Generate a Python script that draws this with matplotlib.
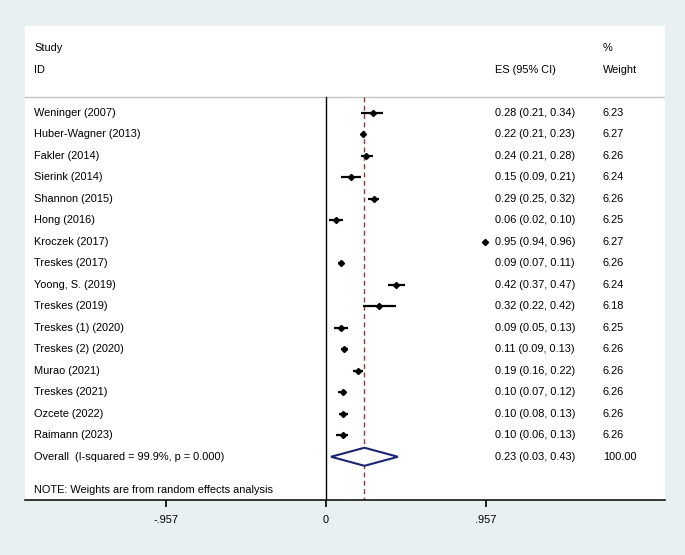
import matplotlib
matplotlib.use("Agg")
import matplotlib.pyplot as plt
from matplotlib.patches import Polygon
from matplotlib.transforms import blended_transform_factory

plt.rcParams['font.family'] = ['Liberation Sans', 'DejaVu Sans']
plt.rcParams['font.size'] = 7.95

# study data
studies = ['Weninger (2007)', 'Huber-Wagner (2013)', 'Fakler (2014)', 'Sierink (2014)',
           'Shannon (2015)', 'Hong (2016)', 'Kroczek (2017)', 'Treskes (2017)',
           'Yoong, S. (2019)', 'Treskes (2019)', 'Treskes (1) (2020)', 'Treskes (2) (2020)',
           'Murao (2021)', 'Treskes (2021)', 'Ozcete (2022)', 'Raimann (2023)']
es = [0.28, 0.22, 0.24, 0.15, 0.29, 0.06, 0.95, 0.09, 0.42, 0.32, 0.09, 0.11, 0.19, 0.10, 0.10, 0.10]
ci_lo = [0.21, 0.21, 0.21, 0.09, 0.25, 0.02, 0.94, 0.07, 0.37, 0.22, 0.05, 0.09, 0.16, 0.07, 0.08, 0.06]
ci_hi = [0.34, 0.23, 0.28, 0.21, 0.32, 0.10, 0.96, 0.11, 0.47, 0.42, 0.13, 0.13, 0.22, 0.12, 0.13, 0.13]
weights = [6.23, 6.27, 6.26, 6.24, 6.26, 6.25, 6.27, 6.26, 6.24, 6.18, 6.25, 6.26, 6.26, 6.26, 6.26, 6.26]

# pooled estimate
overall_es, overall_lo, overall_hi = 0.23, 0.03, 0.43
overall_weight = 100.00
i_squared, p_value = 99.9, 0.000

xticks = [-0.957, 0, 0.957]
xtick_labels = ['-.957', '0', '.957']

bg = '#e8f0f2'
fig = plt.figure(figsize=(6.85, 5.55), dpi=100, facecolor=bg)
W, H = 685, 555
ax = fig.add_axes([25 / W, (H - 500) / H, 640 / W, 474 / H])
ax.set_facecolor('white')

ax.set_xlim(-1.800, 2.0275)
ax.set_ylim(18.01, -4.03)

top_row = -0.74
n = len(studies)
overall_row = n
note_row = n + 1.55

# grey line under the header
ax.axhline(top_row, color='#c4c4c4', lw=1.0)
# zero line and dashed overall line
ax.plot([0, 0], [top_row, 18.01], color='black', lw=1.0)
ax.plot([overall_es, overall_es], [top_row, 18.01], color='#8a3a40', lw=1.0,
        ls=(0, (3.5, 2.5)))

rows = list(range(n))
for r, e, lo, hi in zip(rows, es, ci_lo, ci_hi):
    ax.plot([lo, hi], [r, r], color='black', lw=1.6, solid_capstyle='butt', zorder=3)
    ax.plot(e, r, marker='D', ms=3.1, color='black', zorder=4)

diamond = Polygon([[overall_lo, overall_row], [overall_es, overall_row - 0.42],
                   [overall_hi, overall_row], [overall_es, overall_row + 0.42]],
                  closed=True, facecolor='white', edgecolor='#1c2573', lw=1.5, zorder=5)
ax.add_patch(diamond)

# text columns
tr = blended_transform_factory(ax.transAxes, ax.transData)
x_name, x_es, x_w = 0.0141, 0.7344, 0.903
ax.text(x_name, -3, 'Study', transform=tr, va='center')
ax.text(x_name, -2, 'ID', transform=tr, va='center')
ax.text(x_es, -2, 'ES (95% CI)', transform=tr, va='center')
ax.text(x_w, -3, '%', transform=tr, va='center')
ax.text(x_w, -2, 'Weight', transform=tr, va='center')

for r, s, e, lo, hi, w in zip(rows, studies, es, ci_lo, ci_hi, weights):
    ax.text(x_name, r, s, transform=tr, va='center')
    ax.text(x_es, r, '%.2f (%.2f, %.2f)' % (e, lo, hi), transform=tr, va='center')
    ax.text(x_w, r, '%.2f' % w, transform=tr, va='center')

ax.text(x_name, overall_row, 'Overall  (I-squared = %.1f%%, p = %.3f)' % (i_squared, p_value),
        transform=tr, va='center')
ax.text(x_es, overall_row, '%.2f (%.2f, %.2f)' % (overall_es, overall_lo, overall_hi),
        transform=tr, va='center')
ax.text(x_w, overall_row, '%.2f' % overall_weight, transform=tr, va='center')
ax.text(x_name, note_row, 'NOTE: Weights are from random effects analysis',
        transform=tr, va='center')

# axis styling
for side in ['top', 'left', 'right']:
    ax.spines[side].set_visible(False)
ax.spines['bottom'].set_linewidth(1.1)
ax.set_yticks([])
ax.set_xticks(xticks)
ax.set_xticklabels(xtick_labels)
ax.tick_params(axis='x', length=5, width=1.2, pad=5.5, labelsize=7.95)

fig.savefig('out.png', dpi=100, facecolor=bg)
